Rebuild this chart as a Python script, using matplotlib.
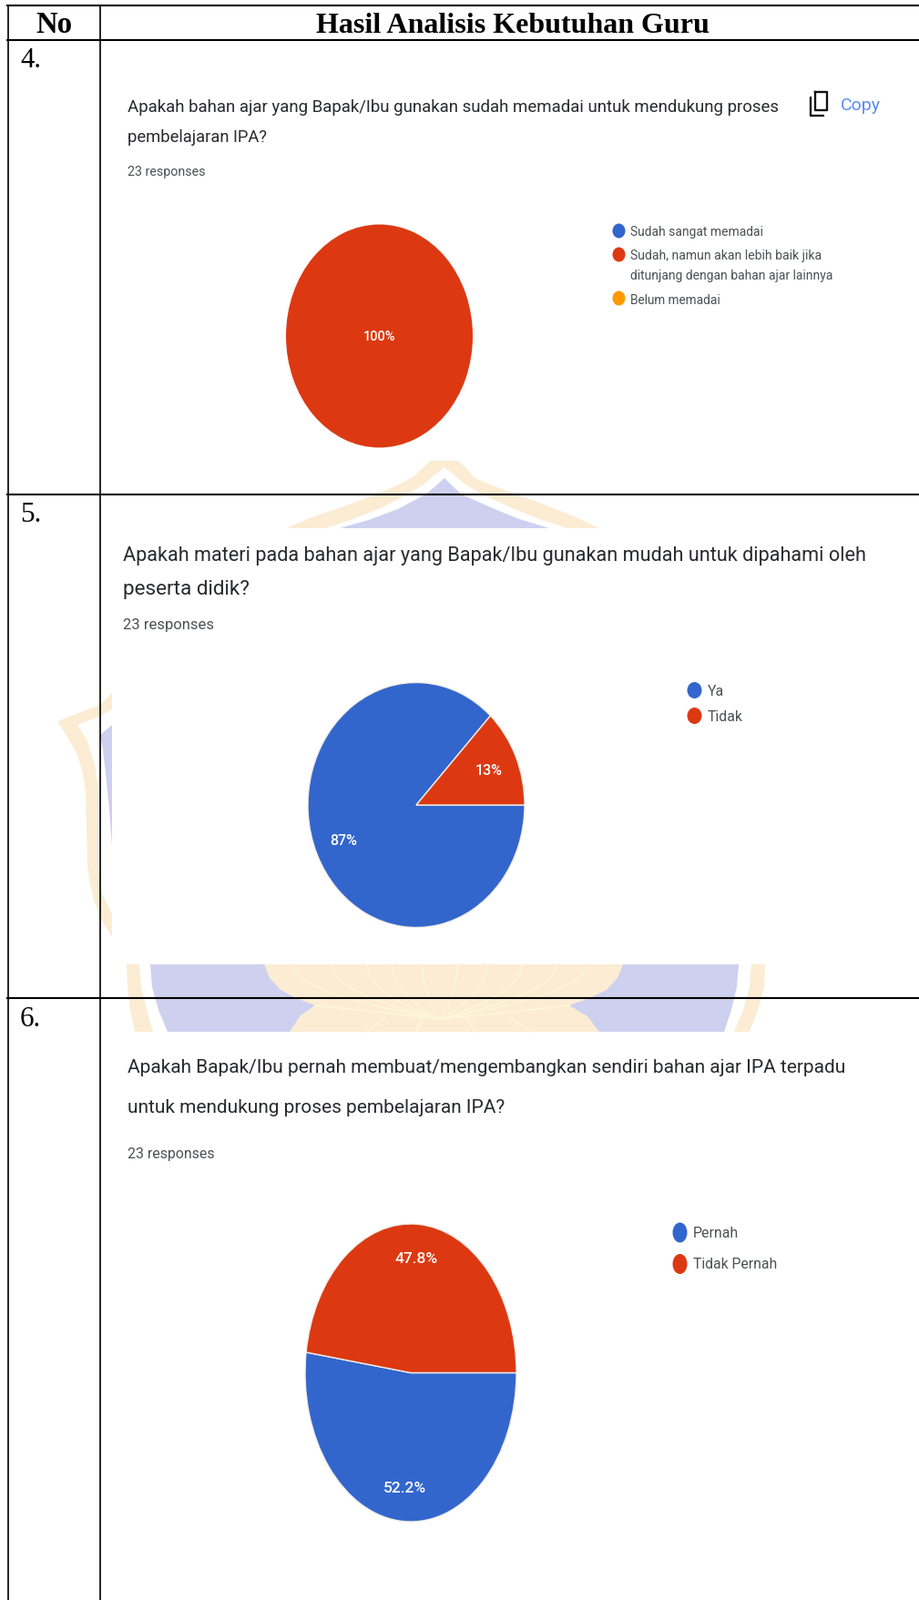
import matplotlib
matplotlib.use('Agg')
import matplotlib.pyplot as plt
from matplotlib.patches import Ellipse, PathPatch, Polygon
from matplotlib.path import Path

W, H = 1009, 1758
BLUE, RED, ORANGE = '#3366cc', '#dc3912', '#ff9900'
INK = '#2a2b2e'
GREY = '#4d5053'
WM_GOLD = '#fbecd3'
WM_BLUE = '#cdd0ef'
WM_PALE = '#fdf6d8'

table_header = ['No', 'Hasil Analisis Kebutuhan Guru']
row_numbers = ['4.', '5.', '6.']
responses = '23 responses'

q4_lines = ['Apakah bahan ajar yang Bapak/Ibu gunakan sudah memadai untuk mendukung proses',
            'pembelajaran IPA?']
q4_labels = ['Sudah sangat memadai', 'Sudah, namun akan lebih baik jika',
             'ditunjang dengan bahan ajar lainnya', 'Belum memadai']
q4_values = [0, 100, 0]

q5_lines = ['Apakah materi pada bahan ajar yang Bapak/Ibu gunakan mudah untuk dipahami oleh',
            'peserta didik?']
q5_labels = ['Ya', 'Tidak']
q5_values = [87, 13]

q6_lines = ['Apakah Bapak/Ibu pernah membuat/mengembangkan sendiri bahan ajar IPA terpadu',
            'untuk mendukung proses pembelajaran IPA?']
q6_labels = ['Pernah', 'Tidak Pernah']
q6_values = [52.2, 47.8]

fig = plt.figure(figsize=(W / 100, H / 100), dpi=100, facecolor='white')
page = fig.add_axes([0, 0, 1, 1])
page.set_xlim(0, W)
page.set_ylim(H, 0)
page.axis('off')
renderer = fig.canvas.get_renderer()


def fit_text(x0, x1, y, s, family='Roboto', color=INK, **kw):
    # scale the font so the string spans x0..x1 pixels
    t = page.text(x0, y, s, family=family, color=color, fontsize=10, va='center', ha='left', **kw)
    width = t.get_window_extent(renderer).width
    t.set_fontsize(10 * (x1 - x0) / width)
    return t


def blob(points, color, zorder=1, edge='none', lw=0):
    page.add_patch(Polygon(points, closed=True, facecolor=color, edgecolor=edge, linewidth=lw, zorder=zorder))


def petal_line(start, ctrl, end, lw=1.2):
    path = Path([start, ctrl, end], [Path.MOVETO, Path.CURVE3, Path.CURVE3])
    page.add_patch(PathPatch(path, facecolor='none', edgecolor=WM_PALE, lw=lw, zorder=3))


def draw_watermark():
    # piece above the second screenshot
    blob([(315, 581), (340, 570), (380, 556), (413, 544), (436, 534), (453, 525), (465, 514), (473, 507),
          (503, 507), (512, 515), (520, 525), (540, 534), (567, 544), (600, 556), (635, 570), (657, 581)],
         WM_GOLD)
    blob([(357, 581), (385, 572), (420, 558), (447, 544), (465, 533), (478, 522), (488, 514), (498, 522),
          (511, 533), (530, 544), (560, 558), (595, 572), (623, 581)], 'white')
    blob([(373, 581), (405, 572), (437, 560), (467, 544), (478, 535), (488, 526), (497, 535), (507, 544),
          (543, 560), (570, 571), (603, 581)], WM_BLUE)
    # left side piece
    blob([(63, 793), (110, 775), (123, 762), (123, 1030), (112, 1012), (103, 990), (99, 972), (96, 950),
          (95, 910), (94, 870), (91, 850), (85, 830), (75, 812)], WM_GOLD)
    blob([(85, 797), (110, 787), (123, 780), (123, 1005), (111, 980), (108, 950), (108, 870), (104, 840),
          (96, 815)], 'white')
    blob([(110, 808), (123, 797), (123, 930), (120, 890), (116, 850), (113, 825)], WM_BLUE)
    # piece below the second screenshot
    blob([(139, 1060), (840, 1060), (839, 1085), (832, 1110), (823, 1134), (148, 1134), (143, 1110),
          (140, 1085)], WM_GOLD)
    blob([(153, 1060), (825, 1060), (823, 1085), (816, 1110), (806, 1134), (168, 1134), (161, 1110),
          (155, 1085)], 'white')
    blob([(165, 1060), (811, 1060), (809, 1085), (803, 1110), (795, 1134), (184, 1134), (174, 1110),
          (167, 1085)], WM_BLUE)
    blob([(290, 1060), (296, 1075), (308, 1088), (325, 1097), (346, 1105), (330, 1116), (318, 1134),
          (658, 1134), (645, 1117), (625, 1105), (648, 1097), (666, 1088), (678, 1075), (684, 1060)],
         WM_GOLD, zorder=2)
    for top in [323, 365, 403, 431, 464, 502, 535, 573, 611, 644]:
        petal_line((483, 1120), (top, 1092), (top, 1060))
    page.plot([346, 420, 483, 556, 625], [1105, 1113, 1120, 1113, 1105], color=WM_PALE, lw=1.6, zorder=3)
    for a, b in [(422, 403), (464, 457), (512, 521), (560, 582)]:
        page.plot([a, b], [1118, 1134], color=WM_PALE, lw=1.4, zorder=3)


def draw_table():
    lw = 1.5
    for y in [6.5, 44.5, 543.5, 1096.5]:
        page.plot([7, W], [y, y], color='black', lw=lw, zorder=5, solid_capstyle='butt')
    for x in [8.5, 110]:
        page.plot([x, x], [6, H], color='black', lw=lw * 0.8, zorder=5, solid_capstyle='butt')
    fit_text(39, 79, 28, table_header[0], family='Liberation Serif', color='black', weight='bold', zorder=6)
    fit_text(347, 779, 28, table_header[1], family='Liberation Serif', color='black', weight='bold', zorder=6)
    for label, y in zip(row_numbers, [66, 566, 1120]):
        fit_text(22, 45, y, label, family='Liberation Serif', color='black', zorder=6)


def draw_pie(values, cx, cy, rx, ry, pct_fmt, pct_dist, label_size):
    ax = fig.add_axes([(cx - rx) / W, 1 - (cy + ry) / H, 2 * rx / W, 2 * ry / H])
    ax.patch.set_alpha(0)

    def fmt(pct):
        return pct_fmt % pct if pct > 0 else ''

    wedges, _, autotexts = ax.pie(values, colors=[BLUE, RED, ORANGE][:len(values)], startangle=0,
                                  counterclock=False, autopct=fmt, pctdistance=pct_dist,
                                  wedgeprops={'edgecolor': '#f2ede8', 'linewidth': 1.0})
    ax.set_aspect('auto')
    ax.set_xlim(-1, 1)
    ax.set_ylim(-1, 1)
    for w, v in zip(wedges, values):
        # a lone full slice has no seam, an empty one draws nothing
        if v == 0:
            w.set_visible(False)
        elif v == sum(values):
            w.set_edgecolor('none')
    for t in autotexts:
        t.set_color('white')
        t.set_fontsize(label_size)
        t.set_family('Roboto')
        t.set_weight('medium')
    return ax


def legend_dot(x, y, rx, ry, color):
    page.add_patch(Ellipse((x, y), 2 * rx, 2 * ry, facecolor=color, edgecolor='none', zorder=6))


draw_watermark()
draw_table()

# row 4
fit_text(140, 857, 118, q4_lines[0])
fit_text(140, 293, 151, q4_lines[1])
fit_text(140, 226, 189, responses, color=GREY)
page.text(923, 116, 'Copy', family='Roboto', color='#5a8cf0', fontsize=14, va='center', ha='left')
page.plot([890, 890, 904], [108, 128, 128], color='#111111', lw=1.7, solid_capstyle='round')
page.plot([895, 908, 908, 895, 895], [102, 102, 122, 122, 102], color='#111111', lw=1.7,
          solid_joinstyle='round')
draw_pie(q4_values, 416.5, 370, 102.5, 122.5, '%.0f%%', 0, 10.5)
for y, c in zip([254.5, 280.5, 328.5], [BLUE, RED, ORANGE]):
    legend_dot(679.5, y, 7, 8, c)
for label, y, x1 in zip(q4_labels, [254.5, 280.5, 303, 329.5], [838, 902, 915, 791]):
    fit_text(692.5, x1, y, label, color=GREY)

# row 5
fit_text(135, 952, 611, q5_lines[0])
fit_text(135, 274, 648, q5_lines[1])
fit_text(135, 235, 687, responses, color=GREY)
draw_pie(q5_values, 457, 885, 119, 134.5, '%.0f%%', 0.73, 11.5)
for y, c in zip([759, 787], [BLUE, RED]):
    legend_dot(762.5, y, 8, 9, c)
for label, y, x1 in zip(q5_labels, [759.5, 787.5], [795, 816]):
    fit_text(777, x1, y, label, color=GREY)

# row 6
fit_text(140, 933, 1173, q6_lines[0])
fit_text(140, 556, 1217, q6_lines[1])
fit_text(140, 236, 1268, responses, color=GREY)
draw_pie(q6_values, 451, 1508.5, 116, 163.5, '%.1f%%', 0.77, 12.5)
for y, c in zip([1354.5, 1389], [BLUE, RED]):
    legend_dot(746.5, y, 8, 11, c)
for label, y, x1 in zip(q6_labels, [1354.5, 1389], [811, 853]):
    fit_text(761, x1, y, label, color=GREY)

page.set_xlim(0, W)
page.set_ylim(H, 0)
fig.savefig('out.png', dpi=100)
